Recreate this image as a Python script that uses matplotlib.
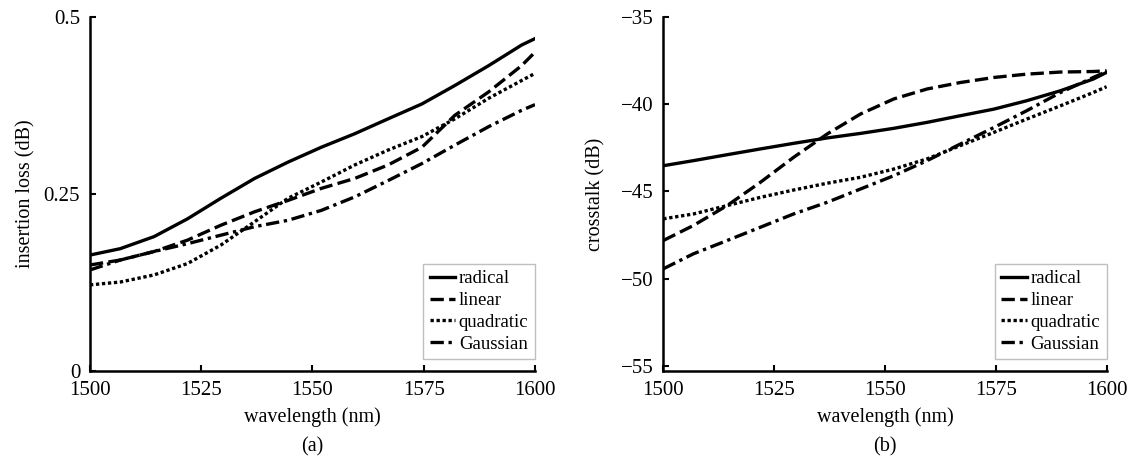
import matplotlib
matplotlib.use("Agg")
import matplotlib.pyplot as plt
import numpy as np

plt.rcParams['font.family'] = ['Liberation Serif', 'DejaVu Serif']

wl = [1500, 1506.8, 1514.4, 1521.9, 1529.4, 1537, 1544.5, 1552, 1559.5,
      1567, 1574.6, 1582, 1589.6, 1597, 1600]

# (a) insertion loss (dB)
il_radical = [0.164, 0.173, 0.190, 0.215, 0.244, 0.272, 0.295, 0.316, 0.335,
              0.356, 0.377, 0.403, 0.431, 0.460, 0.469]
il_linear = [0.150, 0.157, 0.169, 0.185, 0.206, 0.225, 0.241, 0.258, 0.272,
             0.291, 0.316, 0.361, 0.394, 0.431, 0.450]
il_quadratic = [0.122, 0.126, 0.136, 0.152, 0.178, 0.211, 0.244, 0.267, 0.291,
                0.312, 0.331, 0.356, 0.385, 0.410, 0.420]
il_gaussian = [0.143, 0.157, 0.169, 0.180, 0.192, 0.204, 0.213, 0.227, 0.246,
               0.269, 0.293, 0.319, 0.345, 0.368, 0.376]

# (b) crosstalk (dB)
ct_radical = [-43.53, -43.24, -42.90, -42.57, -42.25, -41.94, -41.68, -41.39,
              -41.05, -40.67, -40.29, -39.81, -39.24, -38.57, -38.19]
ct_linear = [-47.81, -46.95, -45.81, -44.48, -43.05, -41.71, -40.57, -39.71,
             -39.14, -38.77, -38.48, -38.29, -38.17, -38.14, -38.10]
ct_quadratic = [-46.57, -46.29, -45.81, -45.34, -44.92, -44.53, -44.19, -43.72,
                -43.14, -42.38, -41.62, -40.86, -40.10, -39.34, -39.01]
ct_gaussian = [-49.43, -48.57, -47.81, -47.05, -46.29, -45.62, -44.86, -44.10,
               -43.24, -42.29, -41.34, -40.38, -39.34, -38.48, -38.14]

names = ['radical', 'linear', 'quadratic', 'Gaussian']
styles = ['-', (0, (4, 1.6)), (0, (1, 0.8)), (0, (4, 1.4, 1, 1.4))]

fig = plt.figure(figsize=(11.33, 4.62), dpi=100)
ax1 = fig.add_axes([0.0794, 0.196, 0.3928, 0.768])
ax2 = fig.add_axes([0.5854, 0.196, 0.3913, 0.768])


def draw(ax, series, ylim, yticks, yticklabels, ylabel, ypad):
    for ys, name, ls in zip(series, names, styles):
        ax.plot(wl, ys, color='black', linestyle=ls, linewidth=2.4, label=name)
    ax.set_xlim(1500, 1600)
    ax.set_ylim(*ylim)
    ax.set_xticks([1500, 1525, 1550, 1575, 1600])
    ax.set_yticks(yticks)
    ax.set_yticklabels(yticklabels)
    ax.set_xlabel('wavelength (nm)', fontsize=14.5, labelpad=5)
    ax.set_ylabel(ylabel, fontsize=14.5, labelpad=ypad)
    ax.tick_params(direction='in', length=4, width=1.5, labelsize=15, pad=7)
    for s in ['top', 'right']:
        ax.spines[s].set_visible(False)
    for s in ['left', 'bottom']:
        ax.spines[s].set_linewidth(1.8)
    leg = ax.legend(loc='lower right', bbox_to_anchor=(1.0, 0.034),
                    fontsize=13.5, frameon=True, fancybox=False,
                    handlelength=1.35, handletextpad=0.2, borderpad=0.35,
                    labelspacing=0.25, borderaxespad=0)
    leg.get_frame().set_edgecolor('#b0b0b0')
    leg.get_frame().set_linewidth(1.0)


draw(ax1, [il_radical, il_linear, il_quadratic, il_gaussian],
     (0, 0.5), [0, 0.25, 0.5], ['0', '0.25', '0.5'], 'insertion loss (dB)', 6)
draw(ax2, [ct_radical, ct_linear, ct_quadratic, ct_gaussian],
     (-55.3, -35), [-55, -50, -45, -40, -35],
     ['\u221255', '\u221250', '\u221245', '\u221240', '\u221235'], 'crosstalk (dB)', 11)

fig.text(0.2758, 0.0325, '(a)', ha='center', va='center', fontsize=14.5)
fig.text(0.781, 0.0325, '(b)', ha='center', va='center', fontsize=14.5)

fig.savefig('out.png', dpi=100)
